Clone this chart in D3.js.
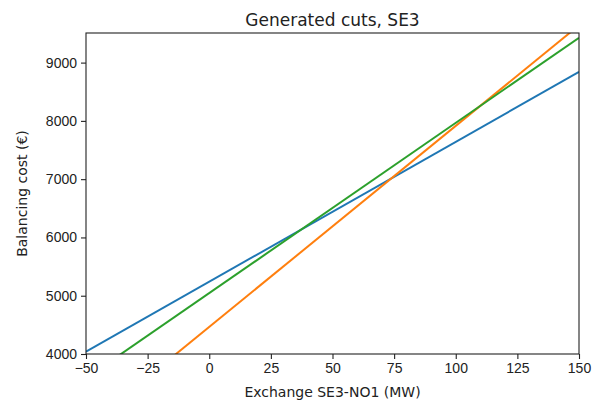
<!DOCTYPE html>
<html>
<head>
<meta charset="utf-8">
<script src="https://cdn.jsdelivr.net/npm/d3@7"></script>
<style>
  body { margin: 0; background: #fff; }
  svg { display: block; font-family: "DejaVu Sans", sans-serif; }
</style>
</head>
<body>
<svg id="chart"></svg>
<script>
// Endpoints of each cut
const xValues = [-50, 150];
const series1 = [4040, 8840];   // blue
const series2 = [2740, 9640];   // orange
const series3 = [3585, 9427];   // green
const seriesColors = ['#1f77b4', '#ff7f0e', '#2ca02c'];
const xTicks = [-50, -25, 0, 25, 50, 75, 100, 125, 150];
const yTicks = [4000, 5000, 6000, 7000, 8000, 9000];

const width = 603, height = 404;
const margin = { top: 33, right: 24, bottom: 50, left: 86 };
const innerW = width - margin.left - margin.right;
const innerH = height - margin.top - margin.bottom;

const svg = d3.select('#chart')
    .attr('width', width)
    .attr('height', height);

const g = svg.append('g')
    .attr('transform', `translate(${margin.left},${margin.top})`);

const xScale = d3.scaleLinear().domain([-50, 150]).range([0, innerW]);
const yScale = d3.scaleLinear().domain([4000, 9508]).range([innerH, 0]);

// clip lines to the axes box
g.append('clipPath').attr('id', 'clip')
    .append('rect').attr('width', innerW).attr('height', innerH);

const line = d3.line()
    .x(d => xScale(d.x))
    .y(d => yScale(d.y));

[series1, series2, series3].forEach((vals, i) => {
    const pts = xValues.map((x, j) => ({ x: x, y: vals[j] }));
    g.append('path')
        .datum(pts)
        .attr('clip-path', 'url(#clip)')
        .attr('fill', 'none')
        .attr('stroke', seriesColors[i])
        .attr('stroke-width', 2)
        .attr('d', line);
});

// axes
const xAxis = d3.axisBottom(xScale).tickValues(xTicks).tickSize(5).tickPadding(4)
    .tickFormat(d => d < 0 ? '\u2212' + Math.abs(d) : d);
const yAxis = d3.axisLeft(yScale).tickValues(yTicks).tickSize(5).tickPadding(4)
    .tickFormat(d3.format('d'));

const gx = g.append('g')
    .attr('transform', `translate(0,${innerH})`)
    .call(xAxis);
const gy = g.append('g').call(yAxis);

[gx, gy].forEach(ax => {
    ax.select('.domain').remove();
    ax.selectAll('line').attr('stroke', '#222').attr('stroke-width', 1.1);
    ax.selectAll('text').attr('fill', '#222').style('font-size', '14px');
});

// frame
g.append('rect')
    .attr('width', innerW)
    .attr('height', innerH)
    .attr('fill', 'none')
    .attr('stroke', '#222')
    .attr('stroke-width', 1.1);

// title and labels
svg.append('text')
    .attr('x', margin.left + innerW / 2)
    .attr('y', 26)
    .attr('text-anchor', 'middle')
    .attr('fill', '#222')
    .style('font-size', '17px')
    .text('Generated cuts, SE3');

svg.append('text')
    .attr('x', margin.left + innerW / 2)
    .attr('y', 397)
    .attr('text-anchor', 'middle')
    .attr('fill', '#222')
    .style('font-size', '14px')
    .text('Exchange SE3-NO1 (MW)');

svg.append('text')
    .attr('transform', `translate(27,${margin.top + innerH / 2}) rotate(-90)`)
    .attr('text-anchor', 'middle')
    .attr('fill', '#222')
    .style('font-size', '14px')
    .text('Balancing cost (€)');
</script>
</body>
</html>
